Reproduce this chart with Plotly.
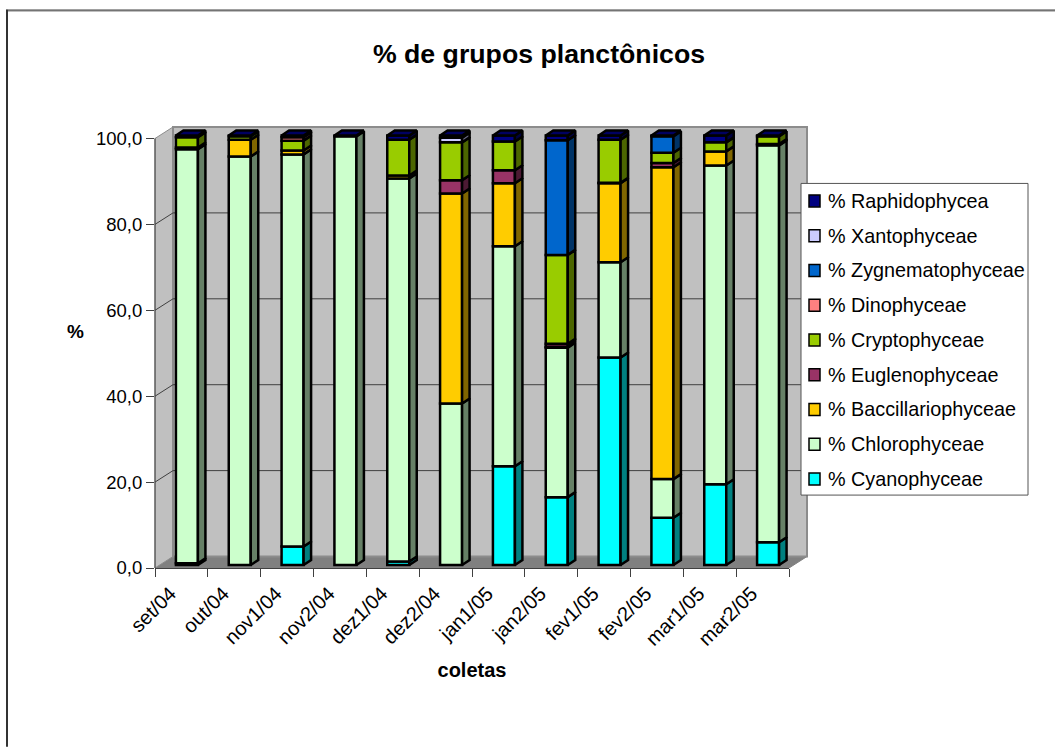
import plotly.graph_objects as go

WIDTH, HEIGHT = 1055, 747

coletas = ["set/04", "out/04", "nov1/04", "nov2/04", "dez1/04", "dez2/04",
           "jan1/05", "jan2/05", "fev1/05", "fev2/05", "mar1/05", "mar2/05"]
y_ticks = [0, 20, 40, 60, 80, 100]
y_tick_labels = ["0,0", "20,0", "40,0", "60,0", "80,0", "100,0"]

# Percentage of each group per sampling, bottom of the stack first
cyanophyceae      = [0.4, 0.0, 4.3, 0.0, 0.8, 0.0, 23.0, 15.8, 48.3, 11.0, 18.8, 5.3]
chlorophyceae     = [96.4, 95.1, 91.3, 99.8, 89.2, 37.6, 51.2, 34.8, 22.2, 9.0, 74.2, 92.4]
baccillariophyceae = [0.4, 3.9, 0.9, 0.0, 0.7, 48.9, 14.7, 0.2, 18.4, 72.6, 3.3, 0.3]
euglenophyceae    = [0.0, 0.0, 0.0, 0.0, 0.0, 3.1, 3.0, 0.7, 0.1, 1.0, 0.0, 0.0]
cryptophyceae     = [2.4, 0.8, 2.3, 0.0, 8.3, 8.8, 6.7, 20.7, 10.0, 2.4, 2.1, 1.8]
dinophyceae       = [0.0, 0.0, 0.8, 0.0, 0.0, 0.0, 0.0, 0.0, 0.0, 0.0, 0.0, 0.0]
zygnematophyceae  = [0.0, 0.0, 0.0, 0.0, 0.0, 0.0, 0.0, 26.7, 0.0, 3.8, 0.0, 0.0]
xantophyceae      = [0.0, 0.0, 0.0, 0.0, 0.0, 1.1, 0.0, 0.0, 0.0, 0.0, 0.0, 0.0]
raphidophycea     = [0.4, 0.2, 0.4, 0.2, 1.0, 0.5, 1.4, 1.1, 1.0, 0.2, 1.6, 0.2]

series = [
    ("% Cyanophyceae", cyanophyceae, "#00FFFF"),
    ("% Chlorophyceae", chlorophyceae, "#CCFFCC"),
    ("% Baccillariophyceae", baccillariophyceae, "#FFCC00"),
    ("% Euglenophyceae", euglenophyceae, "#993366"),
    ("% Cryptophyceae", cryptophyceae, "#99CC00"),
    ("% Dinophyceae", dinophyceae, "#FF8080"),
    ("% Zygnematophyceae", zygnematophyceae, "#0066CC"),
    ("% Xantophyceae", xantophyceae, "#CCCCFF"),
    ("% Raphidophycea", raphidophycea, "#000080"),
]

# Front plane of the plot, in pixels
LEFT, RIGHT, TOP, BOTTOM = 155, 789, 138, 568
# Offset of the back wall relative to the front plane
WALL_DX, WALL_DY = 18, 11.5
# Bar box geometry
BAR_W, BAR_DX, BAR_DY, SHIFT_X, SHIFT_Y = 22, 7.5, 5, 5.5, 3
EDGE = 2.5

# The y axis runs a little past 100 so the box tops stay inside the plot area
PLOT_TOP = TOP - WALL_DY
PX_X = 12 / (RIGHT - LEFT)
PX_Y = 100 / (BOTTOM - TOP)
Y_MAX = (BOTTOM - PLOT_TOP) * PX_Y


def shade(color, factor):
    r, g, b = (int(color[i:i + 2], 16) for i in (1, 3, 5))
    return f"rgb({r * factor:.0f},{g * factor:.0f},{b * factor:.0f})"


def px(x):
    return (x - LEFT) / (RIGHT - LEFT)


def py(y):
    return (BOTTOM - y) / (BOTTOM - PLOT_TOP)


def poly(points, fill, line=None, width=1, layer="below"):
    path = "M" + "L".join(f"{px(x):.5f},{py(y):.5f}" for x, y in points) + "Z"
    return dict(type="path", path=path, xref="paper", yref="paper", fillcolor=fill,
                line=dict(color=line or fill, width=width), layer=layer)


def segment(x0, y0, x1, y1, color, width=1, layer="below"):
    return dict(type="line", xref="paper", yref="paper", x0=px(x0), y0=py(y0), x1=px(x1), y1=py(y1),
                line=dict(color=color, width=width), layer=layer)


shapes = [
    # chart frame, top and left edges only
    segment(6, 9.5, WIDTH, 9.5, "#000000", 1),
    segment(6, 10.5, WIDTH, 10.5, "#999999", 1),
    segment(7, 9, 7, HEIGHT, "#333333", 2),
    # floor
    poly([(LEFT, BOTTOM), (RIGHT, BOTTOM), (RIGHT + WALL_DX, BOTTOM - WALL_DY),
          (LEFT + WALL_DX, BOTTOM - WALL_DY)], "#808080"),
    # side wall
    poly([(LEFT, BOTTOM), (LEFT + WALL_DX, BOTTOM - WALL_DY), (LEFT + WALL_DX, TOP - WALL_DY),
          (LEFT, TOP)], "#C0C0C0", "#8C8C8C", 1),
    # back wall
    poly([(LEFT + WALL_DX, BOTTOM - WALL_DY), (RIGHT + WALL_DX, BOTTOM - WALL_DY),
          (RIGHT + WALL_DX, TOP - WALL_DY), (LEFT + WALL_DX, TOP - WALL_DY)],
         "#C0C0C0", "#8C8C8C", 2),
    # value axis line stops at 100
    segment(LEFT, BOTTOM, LEFT, TOP, "#404040", 1),
]

# Gridlines run along the side wall and across the back wall
for tick in y_ticks[1:-1]:
    y_front = BOTTOM - tick / PX_Y
    shapes.append(segment(LEFT, y_front, LEFT + WALL_DX, y_front - WALL_DY, "#404040"))
    shapes.append(segment(LEFT + WALL_DX, y_front - WALL_DY, RIGHT + WALL_DX, y_front - WALL_DY, "#404040"))

fig = go.Figure()
bottoms = [0.0] * len(coletas)

for position, (name, values, color) in enumerate(series):
    lefts = [i + 0.5 + (SHIFT_X - BAR_W / 2) * PX_X for i in range(len(coletas))]
    centers = [i + 0.5 + SHIFT_X * PX_X for i in range(len(coletas))]
    bases = [b + SHIFT_Y * PX_Y for b in bottoms]

    kept = [i for i, v in enumerate(values) if v > 0]
    fig.add_trace(go.Bar(
        name=name, x=[centers[i] for i in kept], y=[values[i] for i in kept],
        base=[bases[i] for i in kept], width=BAR_W * PX_X,
        marker=dict(color=color, line=dict(color="#000000", width=EDGE)),
        cliponaxis=False, showlegend=False,
    ))

    # Right-hand face of every stacked segment
    side_x, side_y = [], []
    for i in kept:
        xr = lefts[i] + BAR_W * PX_X
        y0, y1 = bases[i], bases[i] + values[i]
        side_x += [xr, xr + BAR_DX * PX_X, xr + BAR_DX * PX_X, xr, xr, None]
        side_y += [y0, y0 + BAR_DY * PX_Y, y1 + BAR_DY * PX_Y, y1, y0, None]
    fig.add_trace(go.Scatter(
        x=side_x, y=side_y, mode="lines", fill="toself", fillcolor=shade(color, 0.5),
        line=dict(color="#000000", width=EDGE), cliponaxis=False, showlegend=False, hoverinfo="skip",
    ))

    # Top face, drawn only for the last non-empty segment of each stack
    top_x, top_y = [], []
    for i in kept:
        if sum(s[1][i] for s in series[position + 1:]) == 0:
            xl = lefts[i]
            xr = xl + BAR_W * PX_X
            y1 = bases[i] + values[i]
            top_x += [xl, xl + BAR_DX * PX_X, xr + BAR_DX * PX_X, xr, xl, None]
            top_y += [y1, y1 + BAR_DY * PX_Y, y1 + BAR_DY * PX_Y, y1, y1, None]
    fig.add_trace(go.Scatter(
        x=top_x, y=top_y, mode="lines", fill="toself", fillcolor=shade(color, 0.75),
        line=dict(color="#000000", width=EDGE), cliponaxis=False, showlegend=False, hoverinfo="skip",
    ))

    bottoms = [b + v for b, v in zip(bottoms, values)]

# Legend panel, listed from the top of the stack downwards
LEG_L, LEG_R, LEG_T, LEG_B = 801, 1028, 183, 495
ROW_FIRST, ROW_STEP = 200.5, 34.8
annotations = []
shapes.append(dict(type="rect", xref="paper", yref="paper", x0=px(LEG_L), x1=px(LEG_R), y0=py(LEG_T), y1=py(LEG_B),
                   fillcolor="#FFFFFF", line=dict(color="#555555", width=1), layer="above"))
for row, (name, _, color) in enumerate(reversed(series)):
    yc = ROW_FIRST + row * ROW_STEP
    shapes.append(dict(type="rect", xref="paper", yref="paper", x0=px(809), x1=px(820), y0=py(yc - 6), y1=py(yc + 6),
                       fillcolor=color, line=dict(color="#000000", width=1.5), layer="above"))
    annotations.append(dict(text=name, xref="paper", yref="paper", x=px(826), y=py(yc), xanchor="left",
                            yanchor="middle", showarrow=False, font=dict(size=19.8, color="#000000")))

annotations.append(dict(text="<b>%</b>", xref="paper", yref="paper", x=px(75), y=py(331), xanchor="center",
                        yanchor="middle", showarrow=False, font=dict(size=19, color="#000000")))

fig.update_layout(
    width=WIDTH, height=HEIGHT, autosize=False, barmode="overlay",
    margin=dict(l=LEFT, r=WIDTH - RIGHT, t=PLOT_TOP, b=HEIGHT - BOTTOM),
    paper_bgcolor="#FFFFFF", plot_bgcolor="rgba(0,0,0,0)",
    font=dict(family="Liberation Sans, Arial, sans-serif", color="#000000"),
    title=dict(text="<b>% de grupos planctônicos</b>", x=539 / WIDTH, xanchor="center", y=1 - 54 / HEIGHT,
               yanchor="middle", font=dict(size=26.7)),
    shapes=shapes, annotations=annotations,
    xaxis=dict(
        range=[0, 12], tickmode="array", tickvals=[i + 0.5 for i in range(12)], ticktext=coletas, tickangle=-45,
        ticks="", showgrid=False, zeroline=False, showline=True, linecolor="#404040", linewidth=1,
        tickfont=dict(size=20), ticklabelstandoff=5, ticklabelshift=-11,
        minor=dict(tickmode="array", tickvals=list(range(13)), ticks="outside", ticklen=8, tickcolor="#404040",
                   tickwidth=1, showgrid=False),
        title=dict(text="<b>coletas</b>", font=dict(size=20), standoff=14),
    ),
    yaxis=dict(
        range=[0, Y_MAX], tickmode="array", tickvals=y_ticks, ticktext=y_tick_labels, ticks="outside", ticklen=8,
        tickcolor="#404040", tickwidth=1, showgrid=False, zeroline=False, showline=False,
        tickfont=dict(size=18.5),
    ),
)

fig.write_html("out.html")
